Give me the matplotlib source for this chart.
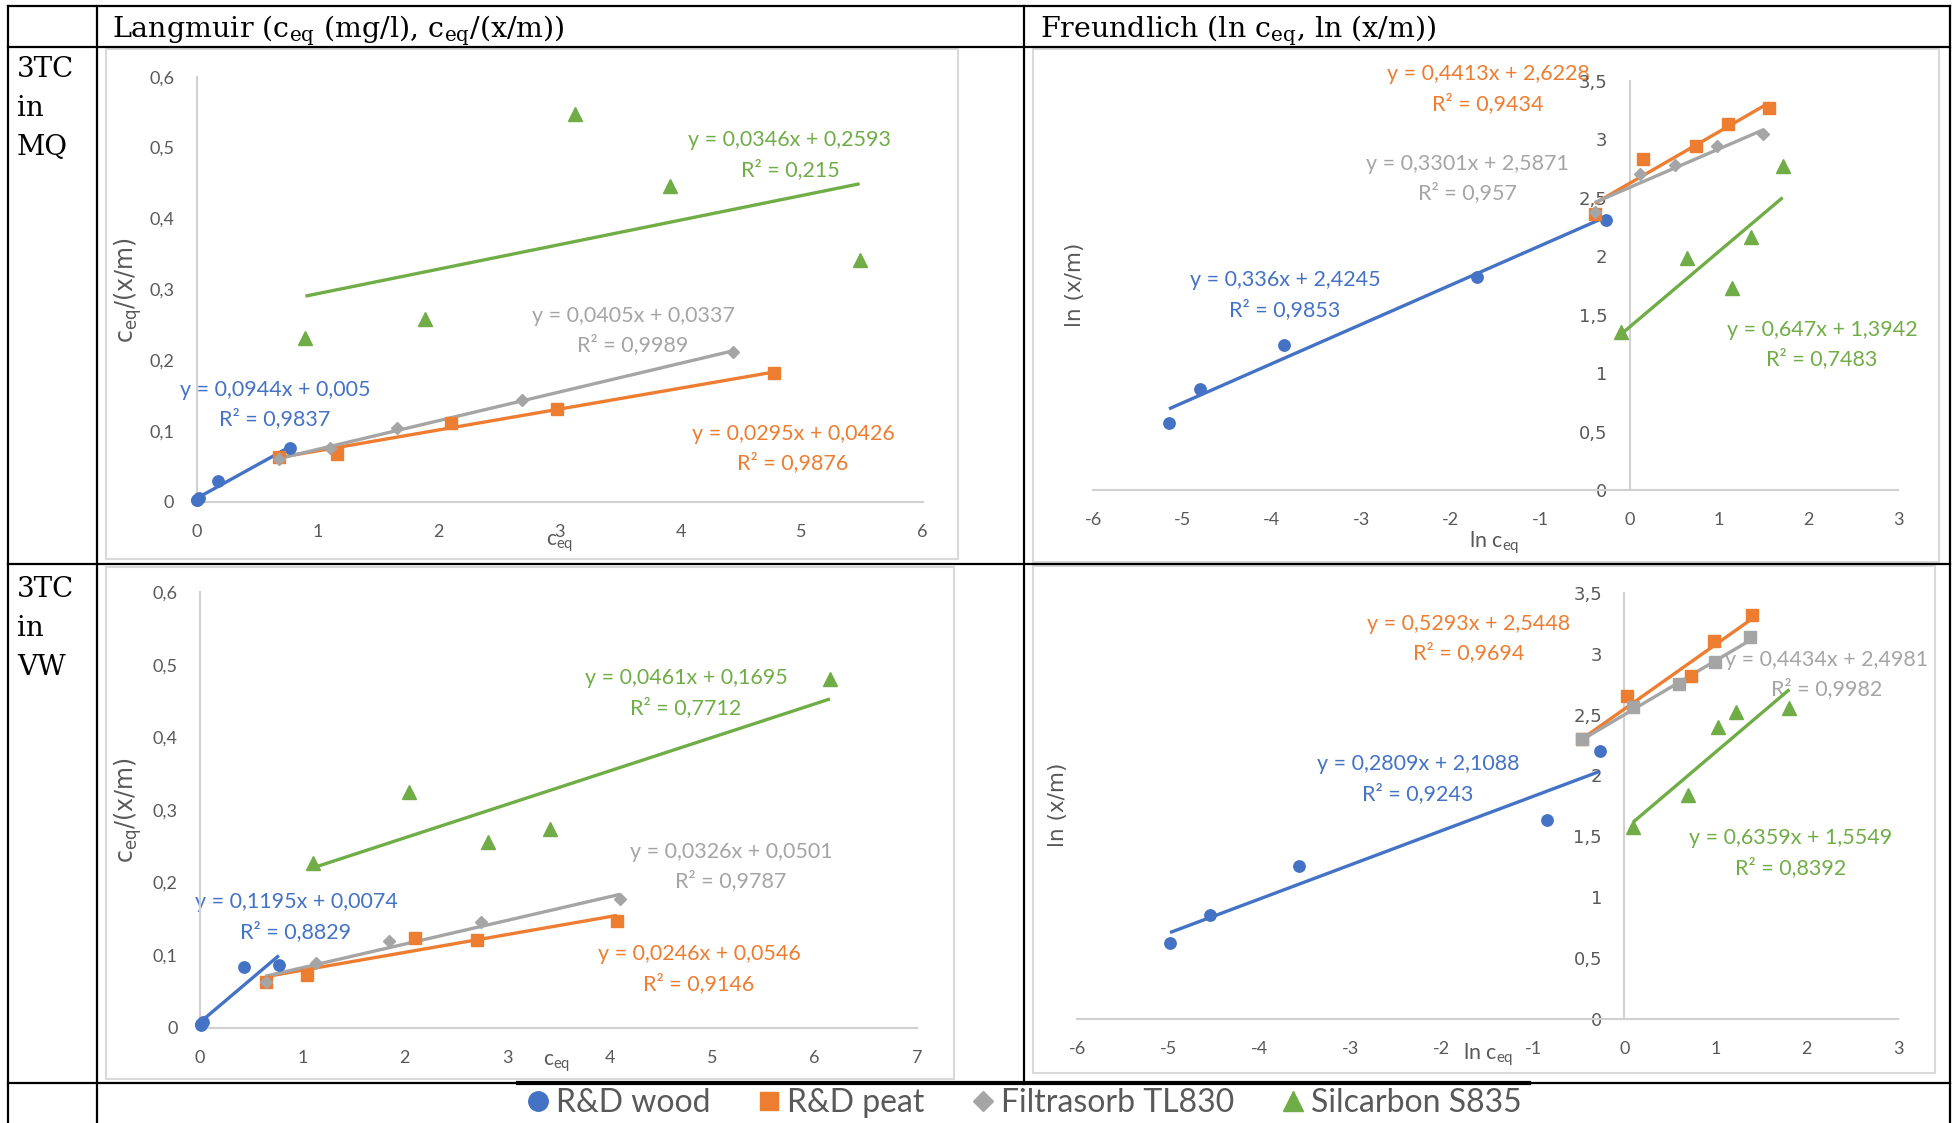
import matplotlib
matplotlib.use("Agg")
import matplotlib.pyplot as plt
from matplotlib.lines import Line2D
from matplotlib.patches import Rectangle
from matplotlib.ticker import FixedLocator, FuncFormatter
import numpy as np

W, H, DPI = 1957, 1123, 100

SERIES = ["R&D wood", "R&D peat", "Filtrasorb TL830", "Silcarbon S835"]
COLORS = ["#4472C4", "#ED7D31", "#A5A5A5", "#70AD47"]

# ---------------- 3TC in MQ, Langmuir (c_eq vs c_eq/(x/m)) ----------------
LMQ_X = [[0.006, 0.008, 0.021, 0.18, 0.77],
         [0.68, 1.16, 2.10, 2.98, 4.77],
         [0.68, 1.10, 1.66, 2.69, 4.43],
         [0.90, 1.89, 3.13, 3.91, 5.48]]
LMQ_Y = [[0.003, 0.0035, 0.006, 0.029, 0.076],
         [0.063, 0.068, 0.112, 0.131, 0.182],
         [0.061, 0.076, 0.104, 0.144, 0.212],
         [0.231, 0.258, 0.548, 0.446, 0.341]]
LMQ_SLOPE = [0.0944, 0.0295, 0.0405, 0.0346]
LMQ_ICPT = [0.005, 0.0426, 0.0337, 0.2593]
LMQ_R2 = [0.9837, 0.9876, 0.9989, 0.215]

# ---------------- 3TC in MQ, Freundlich (ln c_eq vs ln(x/m)) ----------------
FMQ_X = [[-5.15, -4.80, -3.87, -1.71, -0.27],
         [-0.39, 0.15, 0.74, 1.10, 1.56],
         [-0.39, 0.11, 0.51, 0.98, 1.49],
         [-0.10, 0.64, 1.14, 1.36, 1.71]]
FMQ_Y = [[0.57, 0.86, 1.24, 1.82, 2.31],
         [2.36, 2.83, 2.94, 3.13, 3.27],
         [2.38, 2.70, 2.78, 2.94, 3.04],
         [1.35, 1.98, 1.73, 2.16, 2.77]]
FMQ_SLOPE = [0.336, 0.4413, 0.3301, 0.647]
FMQ_ICPT = [2.4245, 2.6228, 2.5871, 1.3942]
FMQ_R2 = [0.9853, 0.9434, 0.957, 0.7483]

# ---------------- 3TC in VW, Langmuir ----------------
LVW_X = [[0.007, 0.011, 0.028, 0.43, 0.77],
         [0.64, 1.04, 2.10, 2.70, 4.07],
         [0.64, 1.13, 1.85, 2.74, 4.10],
         [1.10, 2.04, 2.81, 3.42, 6.15]]
LVW_Y = [[0.004, 0.005, 0.008, 0.083, 0.086],
         [0.063, 0.072, 0.123, 0.121, 0.147],
         [0.063, 0.089, 0.119, 0.145, 0.178],
         [0.227, 0.325, 0.256, 0.274, 0.480]]
LVW_SLOPE = [0.1195, 0.0246, 0.0326, 0.0461]
LVW_ICPT = [0.0074, 0.0546, 0.0501, 0.1695]
LVW_R2 = [0.8829, 0.9146, 0.9787, 0.7712]

# ---------------- 3TC in VW, Freundlich ----------------
FVW_X = [[-4.98, -4.54, -3.57, -0.85, -0.27],
         [-0.46, 0.03, 0.73, 0.98, 1.40],
         [-0.46, 0.10, 0.60, 0.99, 1.38],
         [0.10, 0.70, 1.03, 1.22, 1.81]]
FVW_Y = [[0.62, 0.85, 1.26, 1.63, 2.20],
         [2.30, 2.65, 2.82, 3.10, 3.32],
         [2.30, 2.56, 2.75, 2.93, 3.14],
         [1.58, 1.84, 2.40, 2.52, 2.55]]
FVW_SLOPE = [0.2809, 0.5293, 0.4434, 0.6359]
FVW_ICPT = [2.1088, 2.5448, 2.4981, 1.5549]
FVW_R2 = [0.9243, 0.9694, 0.9982, 0.8392]

LANG_XTICKS_MQ = [0, 1, 2, 3, 4, 5, 6]
LANG_XTICKS_VW = [0, 1, 2, 3, 4, 5, 6, 7]
LANG_YTICKS = [0, 0.1, 0.2, 0.3, 0.4, 0.5, 0.6]
FREU_XTICKS = [-6, -5, -4, -3, -2, -1, 0, 1, 2, 3]
FREU_YTICKS = [0, 0.5, 1, 1.5, 2, 2.5, 3, 3.5]

HEAD_LANGMUIR = r"Langmuir (c$_{\mathregular{eq}}$ (mg/l), c$_{\mathregular{eq}}$/(x/m))"
HEAD_FREUNDLICH = r"Freundlich (ln c$_{\mathregular{eq}}$, ln (x/m))"
ROW_LABELS = [["3TC", "in", "MQ"], ["3TC", "in", "VW"]]

SANS = "Lato"
SERIF = "DejaVu Serif"
TXT_GRAY = "#595959"
AXIS_GRAY = "#D0D0D0"

fig = plt.figure(figsize=(W / DPI, H / DPI), dpi=DPI)
fig.patch.set_facecolor("white")

# pixel-space canvas for the table, chart frames and free text
bg = fig.add_axes([0, 0, 1, 1], zorder=0)
bg.set_xlim(0, W)
bg.set_ylim(H, 0)
bg.axis("off")


def hline(y, x0, x1, lw=1.6):
    bg.plot([x0, x1], [y, y], color="black", lw=lw, solid_capstyle="projecting")


def vline(x, y0, y1, lw=1.6):
    bg.plot([x, x], [y0, y1], color="black", lw=lw, solid_capstyle="projecting")


# table grid
hline(6, 8, 1950)
hline(47, 8, 1950)
hline(564, 8, 1950)
hline(1083, 8, 1950)
hline(1083, 518, 1529, lw=3.0)
vline(8, 6, H + 5)
vline(97, 6, H + 5)
vline(1024, 6, 1083)
vline(1950, 6, H + 5)

# chart frames
for (x0, y0, x1, y1) in [(106, 49, 958, 559), (1033, 49, 1939, 562),
                         (106, 567, 954, 1079), (1033, 566, 1935, 1073)]:
    bg.add_patch(Rectangle((x0, y0), x1 - x0, y1 - y0, facecolor="white",
                           edgecolor="#D9D9D9", lw=1.5, zorder=1))

# headers and row labels
bg.text(112, 37, HEAD_LANGMUIR, family=SERIF, fontsize=20.5, va="baseline", ha="left")
bg.text(1040, 37, HEAD_FREUNDLICH, family=SERIF, fontsize=20.5, va="baseline", ha="left")
for base, lines in zip([77, 597], ROW_LABELS):
    for k, s in enumerate(lines):
        bg.text(17, base + 39 * k, s, family=SERIF, fontsize=20, va="baseline", ha="left")


def comma(v, pos=None):
    return f"{v:g}".replace(".", ",")


def num(v):
    s = f"{v:.4f}".rstrip("0").rstrip(".")
    return s.replace(".", ",")


def px_rect(x0, y_top, x1, y_bot):
    return [x0 / W, 1 - y_bot / H, (x1 - x0) / W, (y_bot - y_top) / H]


MS = {"o": 8.2, "s": 9.0, "D": 6.6, "^": 9.6}


def panel(rect, xs, ys, markers, slopes, icpts, xlim, ylim, xticks, yticks, yspine_zero):
    ax = fig.add_axes(rect, zorder=2)
    ax.patch.set_visible(False)
    for i in range(4):
        x = np.asarray(xs[i], dtype=float)
        y = np.asarray(ys[i], dtype=float)
        xx = np.array([x.min(), x.max()])
        ax.plot(xx, slopes[i] * xx + icpts[i], color=COLORS[i], lw=2.4,
                solid_capstyle="butt", zorder=3, clip_on=False)
        ax.plot(x, y, ls="none", marker=markers[i], ms=MS[markers[i]],
                color=COLORS[i], mec=COLORS[i], zorder=4, clip_on=False)
    ax.set_xlim(xlim)
    ax.set_ylim(ylim)
    ax.xaxis.set_major_locator(FixedLocator(xticks))
    ax.yaxis.set_major_locator(FixedLocator(yticks))
    ax.xaxis.set_major_formatter(FuncFormatter(comma))
    ax.yaxis.set_major_formatter(FuncFormatter(comma))
    ax.tick_params(length=0, pad=16, labelsize=13, labelcolor=TXT_GRAY)
    for lab in ax.get_xticklabels() + ax.get_yticklabels():
        lab.set_family(SANS)
    for side in ["top", "right"]:
        ax.spines[side].set_visible(False)
    for side in ["left", "bottom"]:
        ax.spines[side].set_color(AXIS_GRAY)
        ax.spines[side].set_linewidth(1.5)
    if yspine_zero:
        ax.spines["left"].set_position(("data", 0))
    return ax


panel(px_rect(196.5, 76.7, 922.5, 502), LMQ_X, LMQ_Y, ["o", "s", "D", "^"],
      LMQ_SLOPE, LMQ_ICPT, (0, 6), (0, 0.6), LANG_XTICKS_MQ, LANG_YTICKS, False)
panel(px_rect(1093, 80.7, 1898, 490), FMQ_X, FMQ_Y, ["o", "s", "D", "^"],
      FMQ_SLOPE, FMQ_ICPT, (-6, 3), (0, 3.5), FREU_XTICKS, FREU_YTICKS, True)
panel(px_rect(200, 592.3, 917, 1027.7), LVW_X, LVW_Y, ["o", "s", "D", "^"],
      LVW_SLOPE, LVW_ICPT, (0, 7), (0, 0.6), LANG_XTICKS_VW, LANG_YTICKS, False)
panel(px_rect(1077, 592.7, 1898, 1019), FVW_X, FVW_Y, ["o", "s", "s", "^"],
      FVW_SLOPE, FVW_ICPT, (-6, 3), (0, 3.5), FREU_XTICKS, FREU_YTICKS, True)

# trendline equations (centre of the two-line block, in pixels)
LABEL_POS = [
    ([(275, 404), (793, 448), (633, 330), (790, 155)], LMQ_SLOPE, LMQ_ICPT, LMQ_R2),
    ([(1285, 295), (1488, 89), (1467, 178), (1822, 344)], FMQ_SLOPE, FMQ_ICPT, FMQ_R2),
    ([(296, 917), (699, 969), (731, 866), (686, 693)], LVW_SLOPE, LVW_ICPT, LVW_R2),
    ([(1418, 779), (1469, 638), (1827, 674), (1791, 853)], FVW_SLOPE, FVW_ICPT, FVW_R2),
]
for positions, slopes, icpts, r2s in LABEL_POS:
    for i, (cx, cy) in enumerate(positions):
        bg.text(cx, cy - 14.5, f"y = {num(slopes[i])}x + {num(icpts[i])}", family=SANS,
                fontsize=15.5, color=COLORS[i], ha="center", va="center", zorder=5)
        bg.text(cx, cy + 14.5, f"R² = {num(r2s[i])}", family=SANS,
                fontsize=15.5, color=COLORS[i], ha="center", va="center", zorder=5)

# axis titles
for (cx, cy) in [(560, 543), (557, 1063)]:
    bg.text(cx, cy, r"c$_{\mathregular{eq}}$", family=SANS, fontsize=15,
            color=TXT_GRAY, ha="center", va="center", zorder=5)
for (cx, cy) in [(1494, 543), (1488, 1055)]:
    bg.text(cx, cy, r"ln c$_{\mathregular{eq}}$", family=SANS, fontsize=15.5,
            color=TXT_GRAY, ha="center", va="center", zorder=5)
for (cx, cy) in [(128, 290), (128, 810)]:
    bg.text(cx, cy, r"c$_{\mathregular{eq}}$/(x/m)", family="DejaVu Sans", fontsize=17,
            color=TXT_GRAY, ha="center", va="center", rotation=90, zorder=5)
for (cx, cy) in [(1075, 285), (1058, 805)]:
    bg.text(cx, cy, "ln (x/m)", family="DejaVu Sans", fontsize=15.5,
            color=TXT_GRAY, ha="center", va="center", rotation=90, zorder=5)

# legend in the bottom row
handles = [Line2D([], [], ls="none", marker=m, ms=s, color=c, mec=c)
           for m, s, c in zip(["o", "s", "D", "^"], [14, 13.5, 10, 14], COLORS)]
fig.legend(handles, SERIES, loc="center", bbox_to_anchor=(1024 / W, 1 - 1103 / H),
           ncol=4, frameon=False, prop={"family": SANS, "size": 23},
           labelcolor=TXT_GRAY, handlelength=0.75, handletextpad=0.2,
           columnspacing=1.45, borderpad=0)

fig.savefig("out.png", dpi=DPI, facecolor="white")
